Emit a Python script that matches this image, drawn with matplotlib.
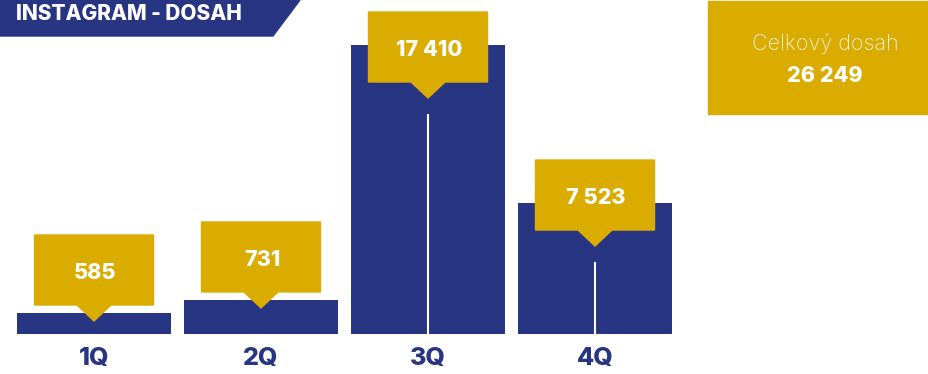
import matplotlib.pyplot as plt
from matplotlib.patches import Polygon, Rectangle

plt.rcParams['font.family'] = ['Inter', 'DejaVu Sans']

# data
quarters = ['1Q', '2Q', '3Q', '4Q']
reach = [585, 731, 17410, 7523]
# výška sloupců jak je v obrázku (malé hodnoty nejsou v měřítku)
bar_heights = [1265, 2050, 17410, 7890]
total = 26249

navy = '#283583'
gold = '#dbac00'

def fmt(v):
    return f'{v:,}'.replace(',', ' ')

fig = plt.figure(figsize=(9.29, 3.74), dpi=100)
ax = fig.add_axes([10.5 / 929, 40 / 374, 668 / 929, 289 / 374])
ax.set_xlim(-0.5, 3.5)
ax.set_ylim(0, max(bar_heights))
ax.axis('off')

ax.bar(range(len(quarters)), bar_heights, width=154 / 167, color=navy)

# převod pixelů na jednotky dat
ppx = 1 / 167
ppy = max(bar_heights) / 289
tip_off = [8, 8, 53, 43]   # o kolik pixelů je špička bubliny pod vrcholem sloupce

for i, (v, h) in enumerate(zip(reach, bar_heights)):
    tip = h - tip_off[i] * ppy
    bot = tip + 16 * ppy
    top = bot + 70 * ppy
    hw = 59.5 * ppx
    tw = 17 * ppx
    pts = [(i - hw, bot), (i - tw, bot), (i, tip), (i + tw, bot),
           (i + hw, bot), (i + hw, top), (i - hw, top)]
    ax.add_patch(Polygon(pts, closed=True, color=gold, clip_on=False, zorder=3))
    ax.text(i + 1 * ppx, (bot + top) / 2 - 3 * ppy, fmt(v), color='white', fontsize=15.5,
            fontweight=800, ha='center', va='center', zorder=4, clip_on=False)
    if tip_off[i] > 30:
        ax.plot([i, i], [0, tip - 17 * ppy], color='white', lw=1.5, zorder=2)
    ax.text(i, -25 * ppy, quarters[i], color=navy, fontsize=18, fontweight=800,
            ha='center', va='center', clip_on=False)

# hlavička a celkový součet
ov = fig.add_axes([0, 0, 1, 1])
ov.set_xlim(0, 929)
ov.set_ylim(374, 0)
ov.axis('off')
ov.add_patch(Polygon([(0, 0), (300, 0), (273, 36), (0, 36)], closed=True, color=navy))
ov.text(16, 14, 'INSTAGRAM - DOSAH', color='white', fontsize=15, fontweight=800,
        ha='left', va='center')

ov.add_patch(Rectangle((708, 1), 221, 113, color=gold))
ov.text(825, 43, 'Celkový dosah', color='#f6f0dc', fontsize=15.5, fontweight='light',
        ha='center', va='center')
ov.text(825, 76, fmt(total), color='white', fontsize=15.5, fontweight=800,
        ha='center', va='center')

fig.savefig('out.png', dpi=100)
